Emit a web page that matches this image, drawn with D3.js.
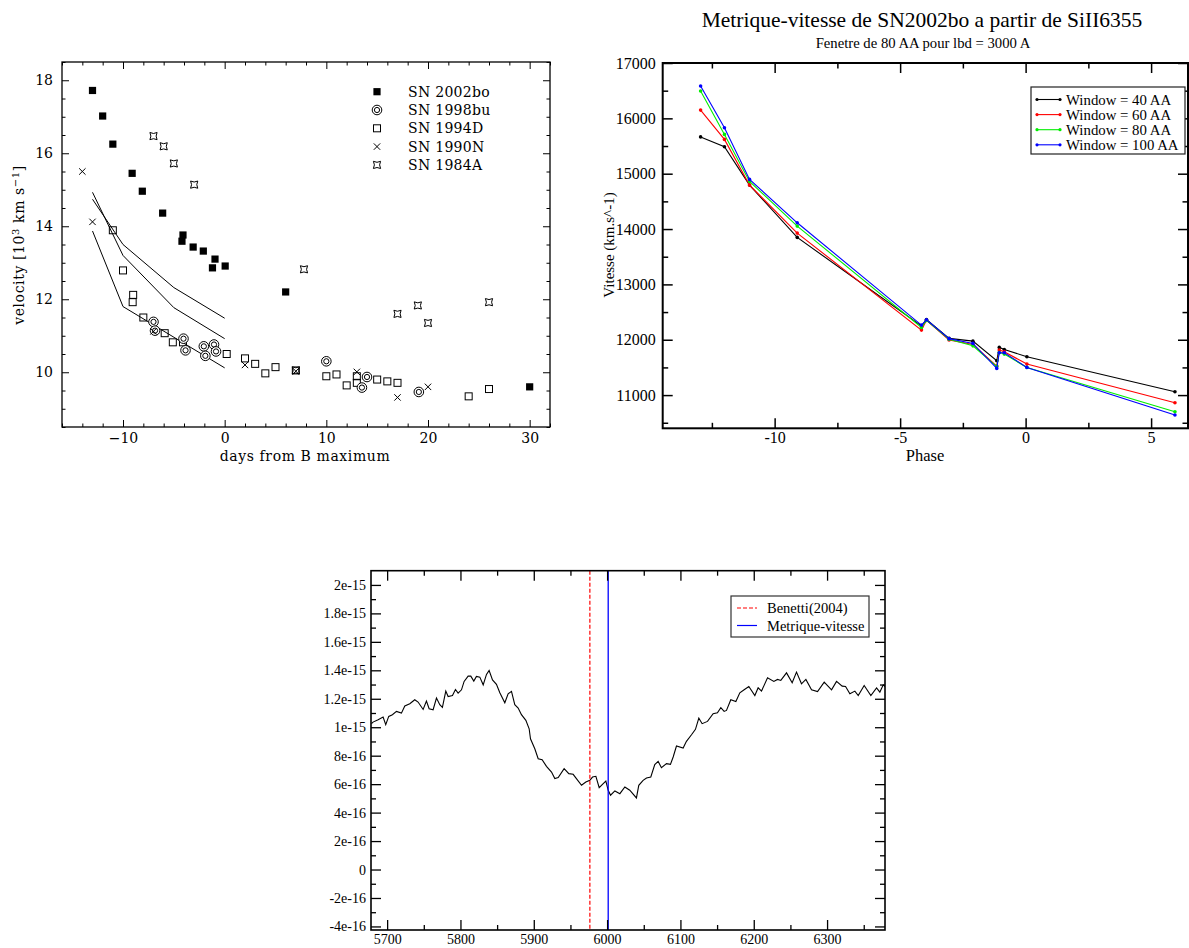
<!DOCTYPE html>
<html><head><meta charset="utf-8">
<script src="https://cdn.jsdelivr.net/npm/d3@7"></script>
<style>body{margin:0;background:#fff}svg{display:block}</style>
</head><body>
<script>
// ---------- Panel 1 data (days from B max, velocity 10^3 km/s) ----------
const sn2002bo_x = [-13,-12,-11,-9.1,-8.1,-6.1,-4.1,-4.2,-3.1,-2.1,-0.95,-1.2,0.05,6,30];
const sn2002bo_v = [17.72,17.02,16.25,15.45,14.96,14.36,13.76,13.59,13.43,13.32,13.10,12.86,12.91,12.2,9.6];
const sn1998bu_x = [-7,-6.85,-4.05,-3.85,-2.05,-1.9,-1.05,-0.85,10,14,13.5,19.1];
const sn1998bu_v = [11.38,11.14,10.92,10.6,10.71,10.45,10.76,10.57,10.3,9.87,9.58,9.46];
const sn1994D_x = [-11,-10,-9,-9.05,-8,-5.9,-5.1,-4.1,0.2,2,3,4,5,7,10,11,12,13,13,15,16,17,24,26];
const sn1994D_v = [13.89,12.79,12.12,11.92,11.5,11.07,10.82,10.82,10.5,10.38,10.23,9.97,10.14,10.05,9.89,9.94,9.64,9.89,9.71,9.8,9.75,9.71,9.34,9.54];
const sn1990N_x = [-14,-13,-7,2,7,13,17,20];
const sn1990N_v = [15.5,14.12,11.12,10.2,10.03,10.01,9.31,9.6];
const sn1984A_x = [-7,-6,-5,-3,7.8,7,17,19,20,26];
const sn1984A_v = [16.47,16.19,15.72,15.14,12.82,10.05,11.6,11.83,11.35,11.92];
const model1_x = [-13,-10,-5,0], model1_v = [14.74,13.5,12.32,11.48];
const model2_x = [-13,-10,-5,0], model2_v = [14.93,13.2,11.77,10.92];
const model3_x = [-13,-10,0],    model3_v = [13.87,11.8,10.12];
const legend1 = ["SN 2002bo","SN 1998bu","SN 1994D","SN 1990N","SN 1984A"];
const p1_xTicks = [-10,0,10,20,30];
const p1_yTicks = [10,12,14,16,18];

// ---------- Panel 2 data ----------
const phase = [-12.95,-12.0,-11.0,-9.1,-4.15,-3.95,-3.05,-2.1,-1.15,-1.05,-0.85,0.05,5.95];
const w40  = [15665,15486,14794,13849,12247,12367,12024,11975,11620,11862,11825,11692,11060];
const w60  = [16149,15620,14794,13927,12174,12350,11994,11915,11524,11813,11783,11560,10861];
const w80  = [16495,15710,14860,14053,12223,12350,12010,11890,11515,11770,11741,11500,10698];
const w100 = [16585,15830,14897,14113,12265,12360,12020,11934,11482,11765,11765,11500,10639];
const legend2 = ["Window = 40 AA","Window = 60 AA","Window = 80 AA","Window = 100 AA"];
const p2_xTicks = [-10,-5,0,5];
const p2_yTicks = [11000,12000,13000,14000,15000,16000,17000];

// ---------- Panel 3 data (wavelength, flux in 1e-16) ----------
const wl = [5678.6,5680.8,5687.7,5694.5,5698.1,5702.2,5707.2,5712.7,5719.5,5724.1,5730.9,5737.7,5742.2,5749.1,5753.6,5757.3,5762.7,5767.3,5771.8,5775.4,5780,5783.2,5789.1,5793.2,5796.8,5801.4,5805,5810.5,5814.1,5818.2,5821.8,5826.4,5831,5835.5,5839.1,5843.7,5849.1,5853.7,5860.5,5865,5869.6,5874.1,5878.7,5883.2,5889.2,5893.7,5895.5,5901.4,5906,5911.4,5917.3,5924.2,5928.7,5933.3,5941.4,5947.8,5953.7,5959.2,5965.1,5971,5976.5,5980.1,5984.7,5989.2,5994.7,5998.3,6001.5,6004.7,6010.6,6017.4,6024.2,6030.9,6040,6043.2,6049.1,6053.7,6059.6,6065,6069.6,6074.1,6081,6086.4,6090.1,6094.6,6103.7,6108.2,6115.1,6120.5,6125.1,6129.6,6136.9,6144.6,6150.5,6155.1,6159.6,6162.8,6168.7,6175.6,6181,6186.9,6193.3,6201.5,6206,6210.6,6218.8,6227.4,6232.4,6236.9,6244.7,6252.4,6258.3,6265.1,6271.1,6278.8,6287,6296.1,6306.1,6312.9,6320.6,6325.2,6331.1,6337.9,6342.5,6350.6,6359.7,6367.5,6372,6376.6,6379.7];
const flux = [10.25,10.36,10.53,10.71,10.18,10.76,10.88,11.11,10.99,11.49,11.65,11.93,11.77,11.25,11.84,11.3,11.23,12.05,11.58,11.39,12.54,12.16,12.23,12.65,12.4,12.63,13.22,13.59,13.59,13.24,13.57,13.52,12.98,13.71,13.99,13.33,13.01,12.42,11.72,12.35,12.52,11.58,11.35,10.88,10.48,9.89,9.19,8.49,7.79,7.72,7.25,6.85,6.39,6.46,7.09,6.74,6.69,6.32,5.92,6.15,6.27,6.5,6.55,5.75,6.04,6.22,5.57,5.22,5.52,5.33,5.8,5.57,5.03,5.92,6.27,6.43,6.5,7.37,7.6,7.16,7.44,7.39,7.91,8.68,8.54,9.01,9.47,9.85,10.64,10.25,10.41,10.95,11.02,11.37,11.11,11.18,11.93,11.81,12.42,12.63,12.86,12.23,12.77,12.54,13.47,13.22,13.36,13.29,13.82,13.12,13.87,13.05,13.36,12.63,12.51,13.17,12.63,13.22,12.89,12.86,12.35,12.54,12.23,12.93,12.23,12.77,12.47,12.98,12.82];
const benetti = 5976.5, metrique = 6001.5;
const legend3 = ["Benetti(2004)","Metrique-vitesse"];
const p3_xTicks = [5700,5800,5900,6000,6100,6200,6300];
const p3_yTicks = [-4,-2,0,2,4,6,8,10,12,14,16,18,20];
const p3_yLabels = ["-4e-16","-2e-16","0","2e-16","4e-16","6e-16","8e-16","1e-15","1.2e-15","1.4e-15","1.6e-15","1.8e-15","2e-15"];

// ---------- helpers ----------
const svg = d3.select("body").append("svg").attr("width",1189).attr("height",948);
const range = (a,b,s) => d3.range(a, b + s/2, s);

function axes(g, xs, ys, c) {
  const [x0,x1] = xs.range(), [yb,yt] = ys.range();
  const add = (fn, sc, vals, size, fmt, tx, ty) => {
    const a = g.append("g").attr("transform",`translate(${tx},${ty})`)
      .call(fn(sc).tickValues(vals).tickSize(size).tickPadding(c.pad[fn===d3.axisLeft?1:0]).tickFormat(fmt));
    a.attr("font-family",c.font).attr("font-size",c.fs);
    a.select(".domain").remove();
    a.selectAll("line").attr("stroke","#000").attr("stroke-width",c.tw);
    a.selectAll("text").attr("font-family",c.font).attr("font-size",c.fs).attr("fill","#000");
    return a;
  };
  const none = () => "";
  add(d3.axisBottom, xs, c.xMaj, -c.maj, c.fx, 0, yb);
  add(d3.axisBottom, xs, c.xMin, -c.min, none, 0, yb);
  add(d3.axisTop, xs, c.xMaj, -c.maj, none, 0, yt);
  add(d3.axisTop, xs, c.xMin, -c.min, none, 0, yt);
  add(d3.axisLeft, ys, c.yMaj, -c.maj, c.fy, x0, 0);
  add(d3.axisLeft, ys, c.yMin, -c.min, none, x0, 0);
  add(d3.axisRight, ys, c.yMaj, -c.maj, none, x1, 0);
  add(d3.axisRight, ys, c.yMin, -c.min, none, x1, 0);
  g.append("rect").attr("x",x0).attr("y",yt).attr("width",x1-x0).attr("height",yb-yt)
    .attr("fill","none").attr("stroke","#000").attr("stroke-width",c.fw);
}

// ---------- Panel 1 ----------
{
  const g = svg.append("g");
  const x = d3.scaleLinear().domain([-16,32]).range([62,550]);
  const y = d3.scaleLinear().domain([8.5,18.5]).range([427,62]);
  const F = "DejaVu Serif";
  axes(g, x, y, {xMaj:p1_xTicks, xMin:range(-16,32,2).filter(v=>v%10!==0), yMaj:p1_yTicks,
    yMin:range(8.5,18.5,0.5).filter(v=>v%2!==0), maj:7, min:3.5, tw:1, fw:1.3, font:F, fs:14, pad:[6,9],
    fx:d=>d<0?"\u2212"+Math.abs(d):String(d), fy:d=>String(d)});

  const line = d3.line().x(d=>x(d[0])).y(d=>y(d[1]));
  [[model1_x,model1_v],[model2_x,model2_v],[model3_x,model3_v]].forEach(([xs,vs])=>{
    g.append("path").attr("d",line(xs.map((v,i)=>[v,vs[i]]))).attr("fill","none").attr("stroke","#000").attr("stroke-width",1);
  });

  const sym = {
    fsq:(s,px,py)=>s.append("rect").attr("x",px-3.6).attr("y",py-3.6).attr("width",7.2).attr("height",7.2).attr("fill","#000"),
    dcirc:(s,px,py)=>{s.append("circle").attr("cx",px).attr("cy",py).attr("r",4.8).attr("fill","#fff").attr("stroke","#000").attr("stroke-width",1);
                      s.append("circle").attr("cx",px).attr("cy",py).attr("r",2.6).attr("fill","none").attr("stroke","#000").attr("stroke-width",1);},
    osq:(s,px,py)=>s.append("rect").attr("x",px-3.5).attr("y",py-3.5).attr("width",7).attr("height",7).attr("fill","none").attr("stroke","#000").attr("stroke-width",1),
    cross:(s,px,py)=>s.append("path").attr("d",`M${px-3.2},${py-3.2}L${px+3.2},${py+3.2}M${px-3.2},${py+3.2}L${px+3.2},${py-3.2}`).attr("stroke","#000").attr("stroke-width",1),
    star:(s,px,py)=>s.append("path").attr("d",`M${px-3.6},${py-3.6}Q${px},${py-1.6} ${px+3.6},${py-3.6}Q${px+1.6},${py} ${px+3.6},${py+3.6}Q${px},${py+1.6} ${px-3.6},${py+3.6}Q${px-1.6},${py} ${px-3.6},${py-3.6}Z`).attr("fill","none").attr("stroke","#000").attr("stroke-width",1)
  };
  const series = [[sn1994D_x,sn1994D_v,"osq"],[sn1998bu_x,sn1998bu_v,"dcirc"],[sn1990N_x,sn1990N_v,"cross"],
                  [sn1984A_x,sn1984A_v,"star"],[sn2002bo_x,sn2002bo_v,"fsq"]];
  series.forEach(([xs,vs,k])=>xs.forEach((v,i)=>sym[k](g,x(v),y(vs[i]))));

  const legKeys = ["fsq","dcirc","osq","cross","star"];
  legend1.forEach((t,i)=>{
    const yy = 91.7 + i*18.3;
    sym[legKeys[i]](g,377,yy);
    g.append("text").attr("x",408).attr("y",yy+5).attr("font-family",F).attr("font-size",14)
      .attr("letter-spacing",0.3).text(t);
  });

  g.append("text").attr("x",305).attr("y",461).attr("text-anchor","middle").attr("font-family",F)
    .attr("font-size",14).attr("letter-spacing",0.6).text("days from B maximum");
  const yl = g.append("text").attr("transform","translate(24,245) rotate(-90)").attr("text-anchor","middle")
    .attr("font-family",F).attr("font-size",14).attr("letter-spacing",0.6);
  yl.append("tspan").text("velocity [10");
  yl.append("tspan").attr("dy",-5).attr("font-size",10).text("3");
  yl.append("tspan").attr("dy",5).text(" km s");
  yl.append("tspan").attr("dy",-5).attr("font-size",10).text("\u22121");
  yl.append("tspan").attr("dy",5).text("]");
}

// ---------- Panel 2 ----------
{
  const g = svg.append("g");
  const x = d3.scaleLinear().domain([-14.46,6.47]).range([662.7,1188]);
  const y = d3.scaleLinear().domain([10400,17000]).range([428.3,63]);
  const F = "Liberation Serif";
  axes(g, x, y, {xMaj:p2_xTicks, xMin:[-12.5,-7.5,-2.5,2.5], yMaj:p2_yTicks, yMin:range(10500,16500,1000),
    maj:10, min:5.5, tw:1.5, fw:2, font:F, fs:16, pad:[3.5,7], fx:d=>String(d), fy:d=>String(d)});
  const cols = ["#000000","#ff0000","#00ee00","#0000ff"];
  const sets = [w40,w60,w80,w100];
  const line = d3.line().x(d=>x(d[0])).y(d=>y(d[1]));
  sets.forEach((vs,k)=>{
    const pts = phase.map((p,i)=>[p,vs[i]]);
    g.append("path").attr("d",line(pts)).attr("fill","none").attr("stroke",cols[k]).attr("stroke-width",1.1);
    g.selectAll(null).data(pts).enter().append("circle").attr("cx",d=>x(d[0])).attr("cy",d=>y(d[1])).attr("r",1.8).attr("fill",cols[k]);
  });
  g.append("rect").attr("x",1031).attr("y",87).attr("width",154).attr("height",67).attr("fill","#fff")
    .attr("stroke","#222").attr("stroke-width",1.2);
  legend2.forEach((t,i)=>{
    const yy = 99.5 + i*15.1;
    g.append("line").attr("x1",1037).attr("x2",1060).attr("y1",yy).attr("y2",yy).attr("stroke",cols[i]).attr("stroke-width",1.1);
    g.append("circle").attr("cx",1037).attr("cy",yy).attr("r",1.6).attr("fill",cols[i]);
    g.append("circle").attr("cx",1060).attr("cy",yy).attr("r",1.6).attr("fill",cols[i]);
    g.append("text").attr("x",1066).attr("y",yy+5).attr("font-family",F).attr("font-size",14.8).text(t);
  });
  g.append("text").attr("x",922).attr("y",27).attr("text-anchor","middle").attr("font-family",F).attr("font-size",21.5)
    .text("Metrique-vitesse de SN2002bo a partir de SiII6355");
  g.append("text").attr("x",923).attr("y",48).attr("text-anchor","middle").attr("font-family",F).attr("font-size",14.7)
    .text("Fenetre de 80 AA pour lbd = 3000 A");
  g.append("text").attr("x",925).attr("y",461).attr("text-anchor","middle").attr("font-family",F).attr("font-size",16.5).text("Phase");
  g.append("text").attr("transform","translate(614,245) rotate(-90)").attr("text-anchor","middle").attr("font-family",F)
    .attr("font-size",15).text("Vitesse (km.s^-1)");
}

// ---------- Panel 3 ----------
{
  const g = svg.append("g");
  const x = d3.scaleLinear().domain([5678,6379]).range([371,885]);
  const y = d3.scaleLinear().domain([-4.25,21]).range([930,570.7]);
  const F = "Liberation Serif";
  g.append("clipPath").attr("id","c3").append("rect").attr("x",371).attr("y",570.7).attr("width",514).attr("height",359.3);
  const pl = g.append("g").attr("clip-path","url(#c3)");
  pl.append("path").attr("d",d3.line().x((d,i)=>x(wl[i])).y(d=>y(d))(flux)).attr("fill","none").attr("stroke","#000").attr("stroke-width",1.1);
  pl.append("line").attr("x1",x(benetti)).attr("x2",x(benetti)).attr("y1",570.7).attr("y2",930)
    .attr("stroke","#ff0000").attr("stroke-width",1.2).attr("stroke-dasharray","4,2");
  pl.append("line").attr("x1",x(metrique)).attr("x2",x(metrique)).attr("y1",570.7).attr("y2",930)
    .attr("stroke","#0000ff").attr("stroke-width",1.3);
  axes(g, x, y, {xMaj:p3_xTicks, xMin:range(5750,6350,100), yMaj:p3_yTicks, yMin:range(-3,19,2),
    maj:10, min:5, tw:1.3, fw:1.6, font:F, fs:14, pad:[4.5,5], fx:d=>String(d), fy:d=>p3_yLabels[p3_yTicks.indexOf(d)]});
  g.append("rect").attr("x",731).attr("y",596).attr("width",138).attr("height",41).attr("fill","#fff")
    .attr("stroke","#333").attr("stroke-width",1.2);
  g.append("line").attr("x1",737).attr("x2",757).attr("y1",608).attr("y2",608).attr("stroke","#ff0000").attr("stroke-width",1.2).attr("stroke-dasharray","4,2");
  g.append("line").attr("x1",737).attr("x2",757).attr("y1",625.5).attr("y2",625.5).attr("stroke","#0000ff").attr("stroke-width",1.2);
  legend3.forEach((t,i)=>g.append("text").attr("x",767).attr("y",613+i*17.5).attr("font-family",F).attr("font-size",14.5).text(t));
}
</script>
</body></html>
